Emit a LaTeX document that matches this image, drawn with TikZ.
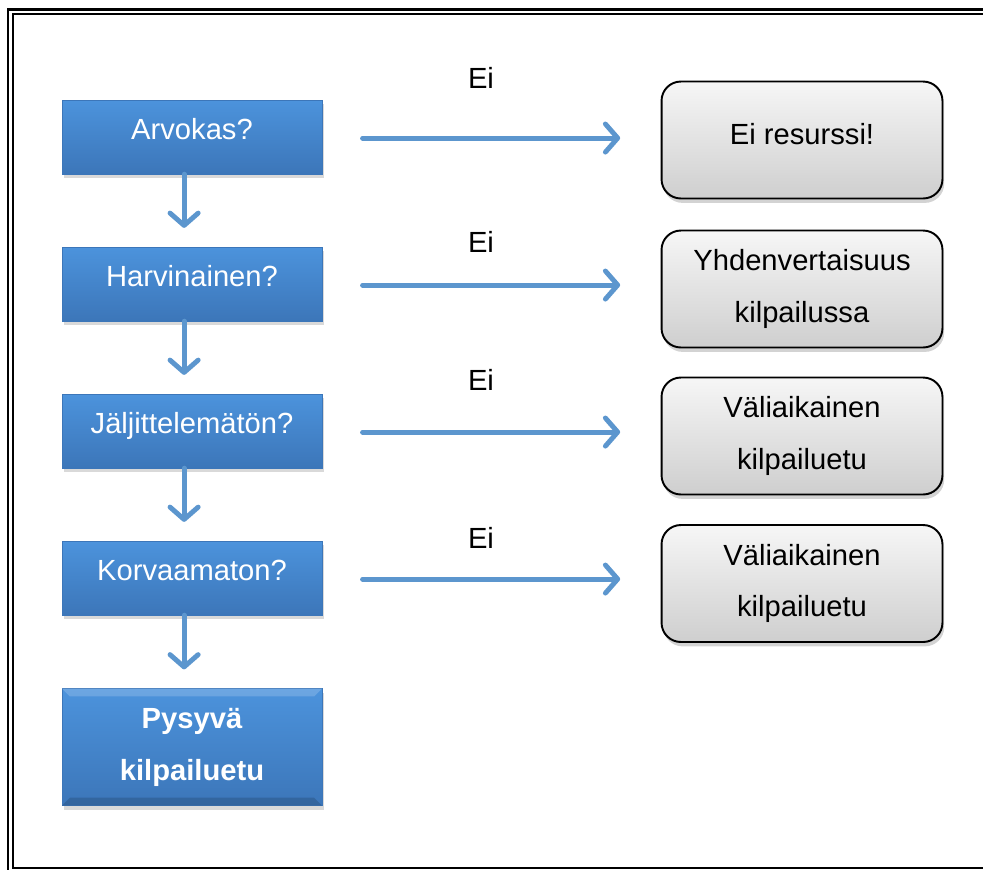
\documentclass[tikz,border=0pt]{standalone}
\usepackage{fontspec}
\setmainfont{Liberation Sans}
\usetikzlibrary{arrows.meta,shadows}

\definecolor{kysblue}{RGB}{76,147,220}
\definecolor{kysbluedark}{RGB}{60,118,185}
\definecolor{nuolisin}{RGB}{92,150,206}

\newcommand{\teksti}{\fontsize{16.6}{29.5}\selectfont}

\begin{document}
\begin{tikzpicture}[x=0.02cm, y=-0.02cm,
    kysymys/.style={rectangle, top color=kysblue, bottom color=kysbluedark,
        draw=kysbluedark, very thin, text=white, align=center,
        minimum width=5.2cm, minimum height=1.48cm, font=\teksti,
        drop shadow={shadow xshift=1pt, shadow yshift=-2.5pt, opacity=0.3}},
    tulos/.style={rectangle, rounded corners=11pt, top color=gray!7,
        bottom color=gray!38, draw=black, line width=1.1pt, align=center,
        minimum width=5.62cm, minimum height=2.34cm, font=\teksti,
        drop shadow={shadow xshift=1pt, shadow yshift=-2.5pt, opacity=0.35}},
    ylos/.style={text height=12.5pt, text depth=#1},
    nuoli/.style={draw=nuolisin, line width=2.8pt, line cap=round,
        -{Straight Barb[length=7pt, width=16pt, round]}},
    ei/.style={font=\teksti}
]
    \useasboundingbox (0,0) rectangle (983,870);

    % kehys
    \draw[line width=1.7pt] (983,9) -- (8,9) -- (8,870);
    \draw[line width=0.9pt] (983,14) -- (13,14) -- (13,868) -- (983,868);

    % kysymykset
    \node[kysymys, ylos=10pt] (arvokas) at (192,137) {Arvokas?};
    \node[kysymys, ylos=10pt] (harvinainen) at (192,284) {Harvinainen?};
    \node[kysymys, ylos=10pt] (jaljittelematon) at (192,431) {Jäljittelemätön?};
    \node[kysymys, ylos=10pt] (korvaamaton) at (192,578) {Korvaamaton?};
    \node[kysymys, minimum height=2.34cm, font=\teksti\bfseries] (pysyva) at (192,747) {Pysyvä\\kilpailuetu};
    \fill[white, opacity=0.18] (pysyva.north west) -- (pysyva.north east) -- ([shift={(-8,8)}]pysyva.north east) -- ([shift={(8,8)}]pysyva.north west) -- cycle;
    \fill[black, opacity=0.15] (pysyva.south west) -- (pysyva.south east) -- ([shift={(-8,-8)}]pysyva.south east) -- ([shift={(8,-8)}]pysyva.south west) -- cycle;

    % tulokset
    \node[tulos, ylos=7.9pt] (resurssi) at (802,140) {Ei resurssi!};
    \node[tulos] (yhdenvertaisuus) at (802,289) {Yhdenvertaisuus\\kilpailussa};
    \node[tulos] (valiaikainen) at (802,436) {Väliaikainen\\kilpailuetu};
    \node[tulos] (valiaikainenb) at (802,583.5) {Väliaikainen\\kilpailuetu};

    % Ei-tekstit
    \node[ei] (ei1) at (481,78) {Ei};
    \node[ei] (ei2) at (481,242) {Ei};
    \node[ei] (ei3) at (481,380) {Ei};
    \node[ei] (ei4) at (481,538) {Ei};

    % nuolet alas
    \draw[nuoli, shorten >=10.8pt] ([xshift=-4.5pt]arvokas.south) -- ([xshift=-4.5pt]harvinainen.north);
    \draw[nuoli, shorten >=10.8pt] ([xshift=-4.5pt]harvinainen.south) -- ([xshift=-4.5pt]jaljittelematon.north);
    \draw[nuoli, shorten >=10.8pt] ([xshift=-4.5pt]jaljittelematon.south) -- ([xshift=-4.5pt]korvaamaton.north);
    \draw[nuoli, shorten >=10.8pt] ([xshift=-4.5pt]korvaamaton.south) -- ([xshift=-4.5pt]pysyva.north);

    % nuolet oikealle
    \draw[nuoli, shorten <=23pt, shorten >=23pt] ([yshift=-0.6pt]arvokas.east) -- ([yshift=-0.6pt]arvokas.east -| resurssi.west);
    \draw[nuoli, shorten <=23pt, shorten >=23pt] ([yshift=-0.6pt]harvinainen.east) -- ([yshift=-0.6pt]harvinainen.east -| yhdenvertaisuus.west);
    \draw[nuoli, shorten <=23pt, shorten >=23pt] ([yshift=-0.6pt]jaljittelematon.east) -- ([yshift=-0.6pt]jaljittelematon.east -| valiaikainen.west);
    \draw[nuoli, shorten <=23pt, shorten >=23pt] ([yshift=-0.6pt]korvaamaton.east) -- ([yshift=-0.6pt]korvaamaton.east -| valiaikainenb.west);
\end{tikzpicture}
\end{document}
